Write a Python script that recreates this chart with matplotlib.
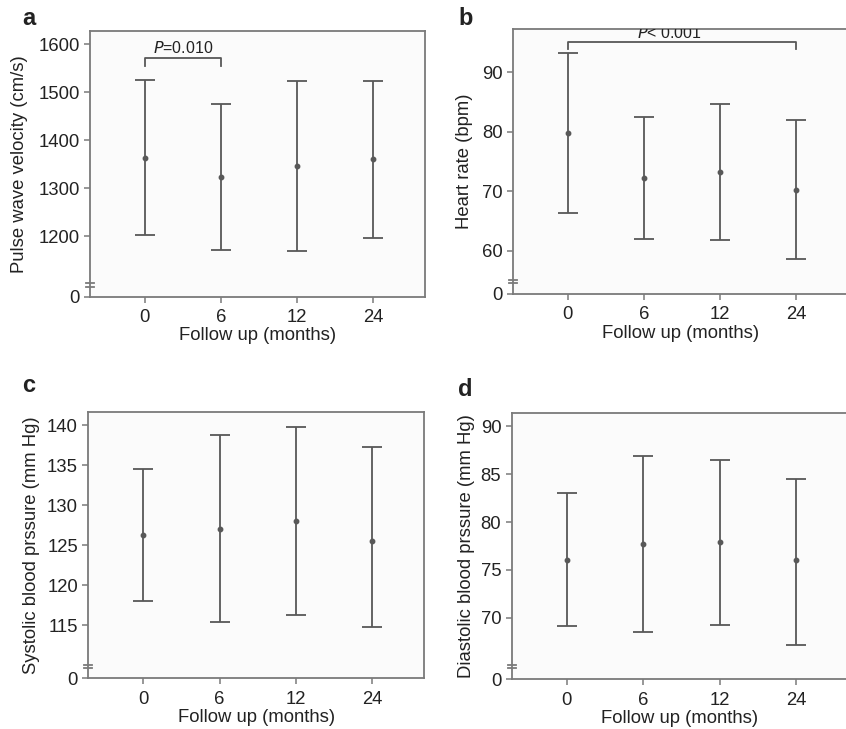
import numpy as np
import matplotlib.pyplot as plt

plt.rcParams['font.family'] = ['Liberation Sans', 'DejaVu Sans']

months = ['0', '6', '12', '24']

# panel a: pulse wave velocity (cm/s)
pwv_mean = [1363, 1323, 1346, 1360]
pwv_low = [1203, 1171, 1169, 1197]
pwv_high = [1525, 1476, 1524, 1523]

# panel b: heart rate (bpm)
hr_mean = [79.7, 72.2, 73.2, 70.25]
hr_low = [66.3, 61.9, 61.8, 58.5]
hr_high = [93.2, 82.5, 84.6, 82.0]

# panel c: systolic BP (mm Hg)
sbp_mean = [126.3, 127.1, 128.1, 125.6]
sbp_low = [118.0, 115.4, 116.25, 114.75]
sbp_high = [134.6, 138.8, 139.75, 137.25]

# panel d: diastolic BP (mm Hg)
dbp_mean = [76.04, 77.67, 77.9, 76.0]
dbp_low = [69.13, 68.5, 69.24, 67.2]
dbp_high = [83.0, 86.9, 86.5, 84.5]

line_col = '#585858'
spine_col = '#7a7a7a'
text_col = '#222222'
fs = 13.3

W, H = 846, 729
fig = plt.figure(figsize=(W / 100, H / 100), dpi=100)


def px_axes(left, top, right, bottom):
    return fig.add_axes([left / W, 1 - bottom / H, (right - left) / W, (bottom - top) / H])


def draw_panel(ax, mean, low, high, ticks, ylo, yhi, brk, ylabel, label_x):
    x = np.arange(len(months))
    mean = np.array(mean)
    err = [mean - np.array(low), np.array(high) - mean]
    ax.errorbar(x, mean, yerr=err, fmt='o', ms=3.2, color=line_col, ecolor=line_col,
                elinewidth=1.3, capsize=7, capthick=1.3)
    ax.set_facecolor('#fbfbfb')
    ax.set_xlim(-0.72, 3.68)
    ax.set_ylim(ylo, yhi)
    ax.set_xticks(x)
    ax.set_xticklabels(months)
    ax.set_yticks([ylo] + ticks)
    ax.set_yticklabels(['0'] + [str(t) for t in ticks])
    for s in ax.spines.values():
        s.set_color(spine_col)
        s.set_linewidth(1.3)
    ax.tick_params(colors=spine_col, labelcolor=text_col, labelsize=fs, length=4, width=1.1)
    ax.tick_params(axis='x', pad=5)
    ax.set_xlabel('Follow up (months)', fontsize=fs, color=text_col, labelpad=1)
    ax.set_ylabel(ylabel, fontsize=fs, color=text_col)
    ax.yaxis.set_label_coords(label_x, 0.5)
    # axis break marker on the left spine
    tr = ax.get_yaxis_transform()
    span = (yhi - ylo) * 0.006
    for dy in (-span, span):
        ax.plot([-0.012, 0.012], [brk + dy, brk + dy], transform=tr, color=spine_col,
                lw=1.3, clip_on=False)


ax_a = px_axes(90, 31, 425, 296.5)
draw_panel(ax_a, pwv_mean, pwv_low, pwv_high, [1200, 1300, 1400, 1500, 1600],
           1074, 1628, 1098, 'Pulse wave velocity (cm/s)', -0.185)
ax_a.plot([0, 0, 1, 1], [1556, 1571, 1571, 1556], color=line_col, lw=1.3)
ax_a.text(0.5, 1575, '$\\it{P}$=0.010', ha='center', va='bottom', fontsize=11.5, color=text_col)

ax_b = px_axes(513, 29.3, 848, 294)
draw_panel(ax_b, hr_mean, hr_low, hr_high, [60, 70, 80, 90],
           52.7, 97.2, 54.85, 'Heart rate (bpm)', -0.12)
ax_b.plot([0, 0, 3, 3], [93.9, 95.0, 95.0, 93.9], color=line_col, lw=1.3)
ax_b.text(1.33, 95.2, '$\\it{P}$< 0.001', ha='center', va='bottom', fontsize=11.5,
          color=text_col, clip_on=True)

ax_c = px_axes(88.3, 411.7, 424, 678.3)
draw_panel(ax_c, sbp_mean, sbp_low, sbp_high, [115, 120, 125, 130, 135, 140],
           108.4, 141.7, 109.9, 'Systolic blood prssure (mm Hg)', -0.143)

ax_d = px_axes(511.7, 412.7, 848, 679.3)
draw_panel(ax_d, dbp_mean, dbp_low, dbp_high, [70, 75, 80, 85, 90],
           63.6, 91.4, 64.93, 'Diastolic blood prssure (mm Hg)', -0.11)

# panel letters
letters = ['a', 'b', 'c', 'd']
letter_pos = [(22, 25), (458, 25), (22, 392), (458, 396)]
for lt, (lx, ly) in zip(letters, letter_pos):
    fig.text(lx / W, 1 - ly / H, lt, fontsize=17, fontweight='bold', color=text_col,
             ha='left', va='baseline')

fig.savefig('out.png', dpi=100)
